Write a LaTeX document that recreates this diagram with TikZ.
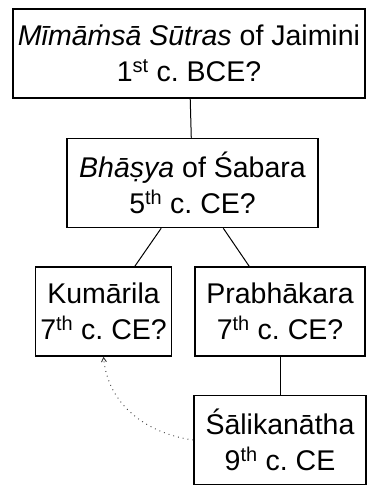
\documentclass[tikz,border=0pt]{standalone}
\usepackage{fontspec}
\setmainfont{Liberation Sans}
\usepackage{tikz}
\usetikzlibrary{arrows,positioning}
\frenchspacing

\begin{document}
\begin{tikzpicture}[>=angle 60,line width=1pt,node distance=38pt,
        work/.style={draw,line width=1.5pt,align=center,inner xsep=5pt,minimum height=89pt,
            font=\fontsize{28.5}{35.5}\selectfont}]
            \useasboundingbox (0,0) rectangle (373pt,-488pt);
            \node   [work]                      at (189pt,-53.5pt)                      (jaimini)     {\textit{Mīmāṁsā Sūtras} of Jaimini\\1\textsuperscript{st} c. BCE?};
            \node   [work,minimum width=251pt]  [below=39pt of jaimini,xshift=3.5pt]    (sabara)      {\textit{Bhāṣya} of Śabara\\5\textsuperscript{th} c. CE?};
            \node   [work]                      [below=of sabara,xshift=-89pt]          (kumarila)    {Kumārila\\7\textsuperscript{th} c. CE?};
            \node   [work,minimum width=170pt]  [below=of sabara,xshift=87.5pt]         (prabhakara)  {Prabhākara\\7\textsuperscript{th} c. CE?};
            \node   [work,minimum width=172pt]  [below=of prabhakara]                   (salikanatha) {Śālikanātha\\9\textsuperscript{th} c. CE};

            \draw   (jaimini) -- (sabara);
            \draw   (sabara) -- (kumarila);
            \draw   (sabara) -- (prabhakara);
            \draw   (prabhakara) -- (salikanatha);

            \draw   [->,line width=0.9pt,dash pattern=on 0.9pt off 4pt,black!80] (salikanatha.west) to[out=172,in=-85] (kumarila.south);
        \end{tikzpicture}
\end{document}
